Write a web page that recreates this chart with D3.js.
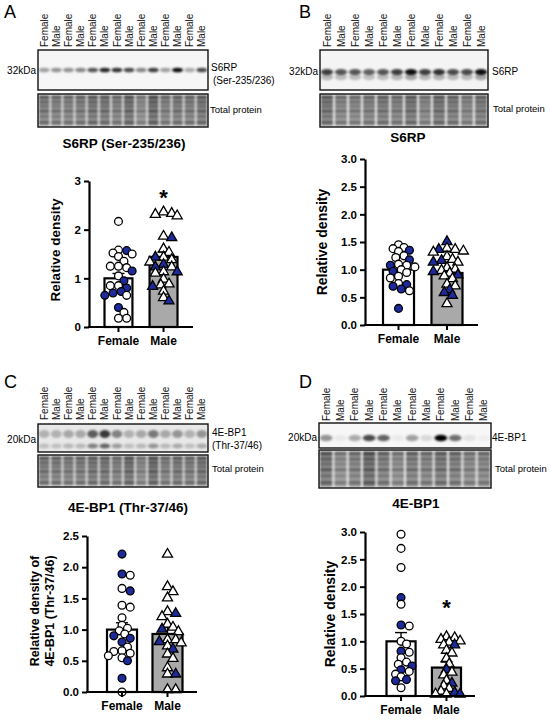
<!DOCTYPE html>
<html>
<head>
<meta charset="utf-8">
<script src="https://cdn.jsdelivr.net/npm/d3@7"></script>
<style>
  body { margin: 0; background: #fff; }
  text { font-family: "Liberation Sans", Arial, sans-serif; }
</style>
</head>
<body>
<div id="fig"></div>
<script>
const groups = ["Female", "Male"];

// lane labels on the blots
const lanes14 = ["Female", "Male", "Female", "Male", "Female", "Male", "Female", "Male",
  "Female", "Male", "Female", "Male", "Female", "Male"];
const lanes12 = ["Female", "Male", "Female", "Male", "Female", "Male", "Female", "Male",
  "Female", "Male", "Female", "Male"];

// band darkness per lane (0..1)
const bandA = [0.35, 0.4, 0.4, 0.45, 0.65, 0.85, 0.8, 0.7, 0.45, 0.75, 0.35, 0.95, 0.3, 0.7];
const bandB = [0.75, 0.65, 0.65, 0.6, 0.65, 0.75, 0.95, 0.75, 0.8, 0.7, 0.7, 0.95];
const bandC = [0.3, 0.3, 0.35, 0.35, 0.75, 0.95, 0.55, 0.3, 0.35, 0.6, 0.35, 0.45, 0.3, 0.45];
const bandD = [0.4, 0.05, 0.3, 0.7, 0.6, 0.05, 0.35, 0.12, 1.0, 0.55, 0.08, 0.03];

// total protein darkness per lane
const tpA = [0.75, 0.7, 0.7, 0.72, 0.8, 0.78, 0.7, 0.85, 0.6, 0.9, 0.7, 0.75, 0.72, 0.8];
const tpB = [0.8, 0.65, 0.65, 0.7, 0.75, 0.7, 0.8, 0.65, 0.8, 0.75, 0.65, 0.75];
const tpC = [0.75, 0.72, 0.7, 0.72, 0.78, 0.78, 0.7, 0.85, 0.62, 0.88, 0.7, 0.76, 0.72, 0.8];
const tpD = [0.85, 0.6, 0.7, 0.95, 0.75, 0.62, 0.75, 0.7, 0.8, 0.75, 0.65, 0.68];

// A: S6RP (Ser-235/236)
const aFemaleOpen = [2.17, 1.58, 1.52, 1.50, 1.45, 1.35, 1.25, 1.22, 1.25, 1.05, 0.85, 0.85, 0.65, 0.30, 0.18, 0.18];
const aFemaleBlue = [1.57, 1.15, 0.95, 0.80, 0.73, 0.70, 0.65, 0.40];
const aMaleOpen = [2.38, 2.35, 2.33, 2.30, 1.88, 1.62, 1.55, 1.45, 1.40, 1.35, 1.25, 1.15, 1.12, 1.00, 0.90, 0.88, 0.75, 0.62];
const aMaleBlue = [1.85, 1.45, 1.30, 1.25, 1.15, 0.85, 0.55];
const aMeans = [1.0, 1.44];
const aSem = [0.1, 0.1];

// B: S6RP
const bFemaleOpen = [1.45, 1.40, 1.38, 1.33, 1.25, 1.22, 1.10, 1.08, 1.05, 1.00, 0.95, 0.88, 0.85, 0.75, 0.62];
const bFemaleBlue = [1.35, 1.18, 1.08, 0.97, 0.73, 0.70, 0.65, 0.30];
const bMaleOpen = [1.40, 1.38, 1.35, 1.33, 1.25, 1.20, 1.15, 1.05, 1.02, 1.00, 0.95, 0.90, 0.85, 0.75, 0.72, 0.40];
const bMaleBlue = [1.52, 1.38, 1.18, 1.15, 0.98, 0.92, 0.65, 0.60, 0.55];
const bMeans = [1.0, 0.94];
const bSem = [0.06, 0.06];

// C: 4E-BP1 (Thr-37/46)
const cFemaleOpen = [1.87, 1.66, 1.39, 1.36, 1.19, 1.07, 1.02, 0.98, 0.93, 0.72, 0.66, 0.65, 0.62, 0.58, 0.55, 0.0];
const cFemaleBlue = [2.21, 1.89, 1.62, 0.90, 0.86, 0.80, 0.50, 0.22];
const cMaleOpen = [2.22, 1.70, 1.62, 1.52, 1.30, 1.22, 1.10, 1.05, 0.98, 0.85, 0.85, 0.80, 0.75, 0.62, 0.55, 0.40, 0.30, 0.05, 0.05];
const cMaleBlue = [1.27, 1.02, 0.82, 0.70, 0.30];
const cMeans = [1.0, 0.93];
const cSem = [0.11, 0.11];

// D: 4E-BP1
const dFemaleOpen = [2.96, 2.70, 2.35, 1.68, 1.28, 1.00, 0.95, 0.80, 0.70, 0.62, 0.58, 0.45, 0.40, 0.35, 0.15];
const dFemaleBlue = [1.80, 1.30, 0.82, 0.55, 0.48, 0.30, 0.28];
const dMaleOpen = [1.10, 1.08, 1.05, 1.02, 1.00, 0.95, 0.85, 0.80, 0.70, 0.60, 0.45, 0.40, 0.30, 0.20, 0.15, 0.10, 0.05, 0.05];
const dMaleBlue = [0.95, 0.50, 0.25, 0.08, 0.05];
const dMeans = [1.0, 0.52];
const dSem = [0.16, 0.1];

const ticks25 = [0, 0.5, 1.0, 1.5, 2.0, 2.5];
const ticks30 = [0, 0.5, 1.0, 1.5, 2.0, 2.5, 3.0];
const ticksA = [0, 1, 2, 3];

const BLUE = "#1c2a9c";
const tpStripes = [0.1, 0.24, 0.37, 0.52, 0.68, 0.86];

const svg = d3.select("#fig").append("svg").attr("width", 550).attr("height", 722);
const defs = svg.append("defs");
defs.append("filter").attr("id", "blur-band").attr("x", "-50%").attr("y", "-100%")
  .attr("width", "200%").attr("height", "300%")
  .append("feGaussianBlur").attr("stdDeviation", 1.3);
defs.append("filter").attr("id", "blur-tp")
  .append("feGaussianBlur").attr("stdDeviation", 0.8);

function drawBlot(c) {
  const g = svg.append("g");
  const [x0, y0, x1, y1] = c.box1;
  const [, t0, , t1] = c.box2;

  g.append("text").attr("x", c.letter[1]).attr("y", c.letter[2])
    .attr("font-size", 18).text(c.letter[0]);

  const lane = d3.scaleBand().domain(d3.range(c.lanes.length))
    .range([x0 + 1, x1 - 1]).paddingInner(0.14);
  const mid = (i) => lane(i) + lane.bandwidth() / 2;

  g.selectAll("text.lane").data(c.lanes).join("text")
    .attr("class", "lane")
    .attr("transform", (d, i) => `translate(${mid(i) + 3.6},${c.labelBottom}) rotate(-90)`)
    .attr("font-size", 10).attr("fill", "#111")
    .text((d) => d);

  // top blot
  g.append("rect").attr("x", x0).attr("y", y0).attr("width", x1 - x0).attr("height", y1 - y0)
    .attr("fill", c.bg);
  const bands = g.append("g").attr("filter", "url(#blur-band)");
  c.rows.forEach((r) => {
    bands.selectAll(null).data(c.bands).join("ellipse")
      .attr("cx", (d, i) => mid(i))
      .attr("cy", r.y)
      .attr("rx", lane.bandwidth() * 0.52)
      .attr("ry", r.ry)
      .attr("fill", "#000")
      .attr("opacity", (d) => Math.min(1, d * r.k));
  });
  g.append("rect").attr("x", x0).attr("y", y0).attr("width", x1 - x0).attr("height", y1 - y0)
    .attr("fill", "none").attr("stroke", "#111").attr("stroke-width", 1.4);

  // total protein
  g.append("rect").attr("x", x0).attr("y", t0).attr("width", x1 - x0).attr("height", t1 - t0)
    .attr("fill", "#f0f0f0");
  const tp = g.append("g").attr("filter", "url(#blur-tp)");
  tp.selectAll("rect").data(c.tp).join("rect")
    .attr("x", (d, i) => lane(i)).attr("y", t0 + 1)
    .attr("width", lane.bandwidth()).attr("height", t1 - t0 - 2)
    .attr("fill", (d) => d3.interpolateGreys(0.3 + 0.28 * d));
  c.tp.forEach((v, i) => {
    tp.selectAll(null).data(tpStripes).join("rect")
      .attr("x", lane(i)).attr("y", (f) => t0 + f * (t1 - t0) - 1.5)
      .attr("width", lane.bandwidth()).attr("height", 3)
      .attr("fill", "#1a1a1a")
      .attr("opacity", (f, j) => v * [0.75, 0.55, 0.4, 0.6, 0.35, 0.55][j]);
  });
  g.append("rect").attr("x", x0).attr("y", t0).attr("width", x1 - x0).attr("height", t1 - t0)
    .attr("fill", "none").attr("stroke", "#111").attr("stroke-width", 1.4);

  g.append("text").attr("x", c.kda[1]).attr("y", c.kda[2]).attr("text-anchor", "end")
    .attr("font-size", 10).text(c.kda[0]);
  c.right.forEach((t) => {
    g.append("text").attr("x", t[1]).attr("y", t[2]).attr("font-size", 10).text(t[0]);
  });
  g.append("text").attr("x", c.tpLabel[0]).attr("y", c.tpLabel[1]).attr("font-size", 9.5)
    .text("Total protein");
  g.append("text").attr("x", c.title[1]).attr("y", c.title[2]).attr("text-anchor", "middle")
    .attr("font-size", 13.5).attr("font-weight", "bold").text(c.title[0]);
}

// beeswarm-ish spread: points may overlap a little, and stay near the bar
function swarm(points, y, r, maxOff) {
  const placed = [];
  const step = r * 0.7;
  const minD = r * 1.55;
  points.slice().sort((a, b) => b.v - a.v).forEach((p) => {
    const py = y(p.v);
    let best = null, bestD = -1;
    for (let k = 0; k < 40; k++) {
      const off = (k % 2 ? 1 : -1) * Math.ceil(k / 2) * step;
      if (Math.abs(off) > maxOff) break;
      const d = placed.length ? d3.min(placed, (q) => Math.hypot(q.off - off, q.py - py)) : Infinity;
      if (d >= minD) { best = off; break; }
      if (d > bestD) { bestD = d; best = off; }
    }
    placed.push({ ...p, off: best, py });
  });
  return placed;
}

function drawChart(c) {
  const g = svg.append("g");
  const y = d3.scaleLinear().domain([0, c.yMax]).range([c.y0, c.yTop]);
  const x = d3.scaleBand().domain(groups).range(c.barRange).paddingInner(c.pad);
  const bw = x.bandwidth();

  g.selectAll("rect.bar").data(groups).join("rect")
    .attr("class", "bar")
    .attr("x", (d) => x(d)).attr("y", (d, i) => y(c.means[i]))
    .attr("width", bw).attr("height", (d, i) => c.y0 - y(c.means[i]))
    .attr("fill", (d, i) => (i ? "#a9a9a9" : "#fff"))
    .attr("stroke", "#000").attr("stroke-width", 2.2);

  // SEM bars
  groups.forEach((gname, i) => {
    const cx = x(gname) + bw / 2;
    g.append("line").attr("x1", cx).attr("x2", cx)
      .attr("y1", y(c.means[i])).attr("y2", y(c.means[i] + c.sem[i]))
      .attr("stroke", "#000").attr("stroke-width", 1.4);
    g.append("line").attr("x1", cx - 6).attr("x2", cx + 6)
      .attr("y1", y(c.means[i] + c.sem[i])).attr("y2", y(c.means[i] + c.sem[i]))
      .attr("stroke", "#000").attr("stroke-width", 1.4);
  });

  const r = 3.9;
  const tri = d3.symbol().type(d3.symbolTriangle).size(44);
  c.data.forEach((set, i) => {
    const cx = x(groups[i]) + bw / 2;
    const pts = swarm(
      set.open.map((v) => ({ v, blue: false })).concat(set.blue.map((v) => ({ v, blue: true }))),
      y, r, bw / 2 + 1
    );
    if (i === 0) {
      g.selectAll(null).data(pts).join("circle")
        .attr("cx", (d) => cx + d.off).attr("cy", (d) => d.py).attr("r", r)
        .attr("fill", (d) => (d.blue ? BLUE : "#fff"))
        .attr("stroke", "#000").attr("stroke-width", 1.3);
    } else {
      g.selectAll(null).data(pts).join("path")
        .attr("d", tri)
        .attr("transform", (d) => `translate(${cx + d.off},${d.py + 0.8})`)
        .attr("fill", (d) => (d.blue ? BLUE : "#fff"))
        .attr("stroke", "#000").attr("stroke-width", 1.3);
    }
  });

  // axes
  const ya = g.append("g").attr("transform", `translate(${c.axisX},0)`)
    .call(d3.axisLeft(y).tickValues(c.ticks).tickFormat(c.fmt).tickSize(5).tickSizeOuter(0).tickPadding(3));
  ya.select(".domain").attr("stroke-width", 2.2);
  ya.selectAll(".tick line").attr("stroke-width", 2);
  ya.selectAll("text").attr("font-size", 11.5).attr("font-weight", "bold")
    .attr("font-family", "Liberation Sans, Arial, sans-serif").attr("fill", "#000");

  const xa = g.append("g").attr("transform", `translate(0,${c.y0})`)
    .call(d3.axisBottom(x).tickSize(5).tickPadding(4));
  xa.select(".domain").remove();
  xa.selectAll(".tick line").attr("stroke-width", 2);
  xa.selectAll("text").attr("font-size", 12).attr("font-weight", "bold")
    .attr("font-family", "Liberation Sans, Arial, sans-serif").attr("fill", "#000");
  g.append("line").attr("x1", c.axisX - 1).attr("x2", c.xEnd)
    .attr("y1", c.y0).attr("y2", c.y0).attr("stroke", "#000").attr("stroke-width", 2.2);

  const cy = (c.y0 + c.yTop) / 2 + c.labelShift;
  c.yLabel.forEach((t, k) => {
    g.append("text")
      .attr("transform", `translate(${c.labelX[k]},${cy}) rotate(-90)`)
      .attr("text-anchor", "middle").attr("font-size", c.labelSize)
      .attr("font-weight", "bold").text(t);
  });

  if (c.star) {
    g.append("text").attr("x", x("Male") + bw / 2).attr("y", y(c.star) + 9)
      .attr("text-anchor", "middle").attr("font-size", 22).attr("font-weight", "bold").text("*");
  }
}

drawBlot({
  letter: ["A", 4, 18], lanes: lanes14, labelBottom: 47,
  box1: [38, 50, 208, 90], box2: [38, 94, 208, 127],
  bg: "#f6f6f6", bands: bandA, tp: tpA,
  rows: [{ y: 70, ry: 2.3, k: 1 }],
  kda: ["32kDa", 36, 74], right: [["S6RP", 211, 71], ["(Ser-235/236)", 213, 84]],
  tpLabel: [210, 113], title: ["S6RP (Ser-235/236)", 124, 148]
});
drawBlot({
  letter: ["B", 299, 18], lanes: lanes12, labelBottom: 47,
  box1: [320, 50, 488, 90], box2: [320, 94, 488, 127],
  bg: "#f4f4f4", bands: bandB, tp: tpB,
  rows: [{ y: 72, ry: 3, k: 1 }, { y: 77, ry: 3.2, k: 0.35 }],
  kda: ["32kDa", 318, 75], right: [["S6RP", 492, 75]],
  tpLabel: [493, 112], title: ["S6RP", 408, 142]
});
drawBlot({
  letter: ["C", 4, 388], lanes: lanes14, labelBottom: 420,
  box1: [38, 424, 208, 452], box2: [38, 455, 208, 487],
  bg: "#e8e8e8", bands: bandC, tp: tpC,
  rows: [{ y: 434, ry: 4, k: 0.8 }, { y: 446, ry: 2.6, k: 0.6 }],
  kda: ["20kDa", 36, 443], right: [["4E-BP1", 212, 436], ["(Thr-37/46)", 212, 449]],
  tpLabel: [212, 472], title: ["4E-BP1 (Thr-37/46)", 128, 512]
});
drawBlot({
  letter: ["D", 299, 388], lanes: lanes12, labelBottom: 421,
  box1: [319, 423, 491, 448], box2: [319, 450, 491, 488],
  bg: "#f7f7f7", bands: bandD, tp: tpD,
  rows: [{ y: 438, ry: 3.2, k: 1 }],
  kda: ["20kDa", 317, 441], right: [["4E-BP1", 492, 441]],
  tpLabel: [495, 472], title: ["4E-BP1", 416, 508]
});

drawChart({
  yMax: 3, y0: 327, yTop: 181, axisX: 89, xEnd: 193,
  barRange: [104.5, 177.5], pad: 0.38,
  ticks: ticksA, fmt: d3.format("d"),
  means: aMeans, sem: aSem,
  data: [{ open: aFemaleOpen, blue: aFemaleBlue }, { open: aMaleOpen, blue: aMaleBlue }],
  yLabel: ["Relative density"], labelX: [60], labelSize: 13.5, labelShift: -4,
  star: 2.7
});
drawChart({
  yMax: 3, y0: 325, yTop: 159, axisX: 365, xEnd: 478,
  barRange: [383, 462.5], pad: 0.36,
  ticks: ticks30, fmt: d3.format(".1f"),
  means: bMeans, sem: bSem,
  data: [{ open: bFemaleOpen, blue: bFemaleBlue }, { open: bMaleOpen, blue: bMaleBlue }],
  yLabel: ["Relative density"], labelX: [327], labelSize: 14, labelShift: 0
});
drawChart({
  yMax: 2.5, y0: 692, yTop: 536, axisX: 87, xEnd: 197,
  barRange: [107, 182.5], pad: 0.34,
  ticks: ticks25, fmt: d3.format(".1f"),
  means: cMeans, sem: cSem,
  data: [{ open: cFemaleOpen, blue: cFemaleBlue }, { open: cMaleOpen, blue: cMaleBlue }],
  yLabel: ["Relative density of", "4E-BP1 (Thr-37/46)"], labelX: [39, 54], labelSize: 12.5, labelShift: -3
});
drawChart({
  yMax: 3, y0: 696, yTop: 532, axisX: 365, xEnd: 475,
  barRange: [386.5, 461], pad: 0.36,
  ticks: ticks30, fmt: d3.format(".1f"),
  means: dMeans, sem: dSem,
  data: [{ open: dFemaleOpen, blue: dFemaleBlue }, { open: dMaleOpen, blue: dMaleBlue }],
  yLabel: ["Relative density"], labelX: [335], labelSize: 14, labelShift: 0,
  star: 1.65
});
</script>
</body>
</html>
